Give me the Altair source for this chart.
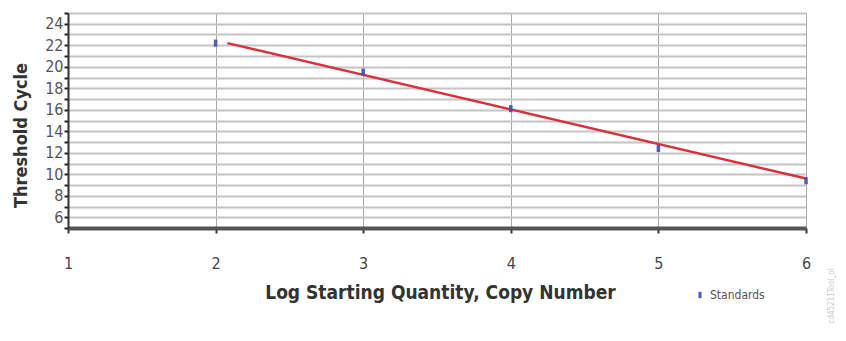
import altair as alt
import pandas as pd

# Data
log_qty = [2, 3, 4, 5, 6]
ct = [22.2, 19.5, 16.1, 12.4, 9.4]
series = ["Standards"] * 5

fit_x = [2.08, 6.0]
fit_y = [22.2, 9.6]

y_ticks = list(range(5, 26))
x_ticks = [1, 2, 3, 4, 5, 6]

pts = pd.DataFrame({"x": log_qty, "y": ct, "s": series})
fit = pd.DataFrame({"x": fit_x, "y": fit_y})

FONT = "'Liberation Sans Narrow', 'DejaVu Sans Condensed', 'Arial Narrow', sans-serif"

xscale = alt.Scale(domain=[1, 6], nice=False, zero=False)
yscale = alt.Scale(domain=[5, 25], nice=False, zero=False)

xaxis = alt.Axis(values=x_ticks, title="Log Starting Quantity, Copy Number",
                 grid=True, gridColor="#a8a8a8", gridWidth=1,
                 domainColor="#555555", domainWidth=4,
                 tickColor="#333333", tickSize=5, tickWidth=2,
                 labelFont=FONT, labelFontSize=16, labelColor="#444444",
                 labelPadding=22, labelFlush=False,
                 titleFont=FONT, titleFontSize=19, titleFontWeight="bold",
                 titleColor="#333333", titlePadding=12, titleX=372)
yaxis = alt.Axis(values=y_ticks, title="Threshold Cycle",
                 labelExpr="datum.value % 2 == 0 && datum.value < 25 ? datum.label : ''",
                 grid=True, gridColor="#c4c4c4", gridWidth=2,
                 domainColor="#333333", domainWidth=2,
                 tickColor="#222222", tickSize=4, tickWidth=2,
                 labelFont=FONT, labelFontSize=16, labelColor="#555555",
                 labelPadding=1, labelFlush=False,
                 titleFont=FONT, titleFontSize=18, titleFontWeight="bold",
                 titleColor="#333333", titlePadding=14, titleY=122)

MARK = "M-0.5,-1L0.5,-1L0.5,1L-0.5,1Z"

line = alt.Chart(fit).mark_line(color="#d8303c", strokeWidth=2.5).encode(
    x=alt.X("x:Q", scale=xscale, axis=xaxis),
    y=alt.Y("y:Q", scale=yscale, axis=yaxis),
)

points = alt.Chart(pts).mark_point(
    filled=True, shape=MARK, size=50, opacity=0.9
).encode(
    x=alt.X("x:Q", scale=xscale, axis=xaxis),
    y=alt.Y("y:Q", scale=yscale, axis=yaxis),
    color=alt.Color("s:N", scale=alt.Scale(range=["#3f4fa8"]),
                    legend=alt.Legend(title=None, orient="none", legendX=626, legendY=276,
                                      labelFont=FONT, labelFontSize=12,
                                      labelColor="#555555", symbolSize=40,
                                      symbolType=MARK)),
)

wm = alt.Chart(pd.DataFrame({"t": ["cd45211Tool_ol"]})).mark_text(
    angle=270, fontSize=8, color="#cccccc", font=FONT, align="center"
).encode(text="t:N", x=alt.value(764), y=alt.value(283))

chart = alt.layer(line, points, wm).properties(
    width=738, height=215,
    autosize=alt.AutoSizeParams(type="none"),
    padding={"left": 60, "top": 5, "right": 32, "bottom": 100},
).configure_view(stroke=None).configure(background="white")

chart.save("out.html", embed_options={"renderer": "svg", "actions": False})
